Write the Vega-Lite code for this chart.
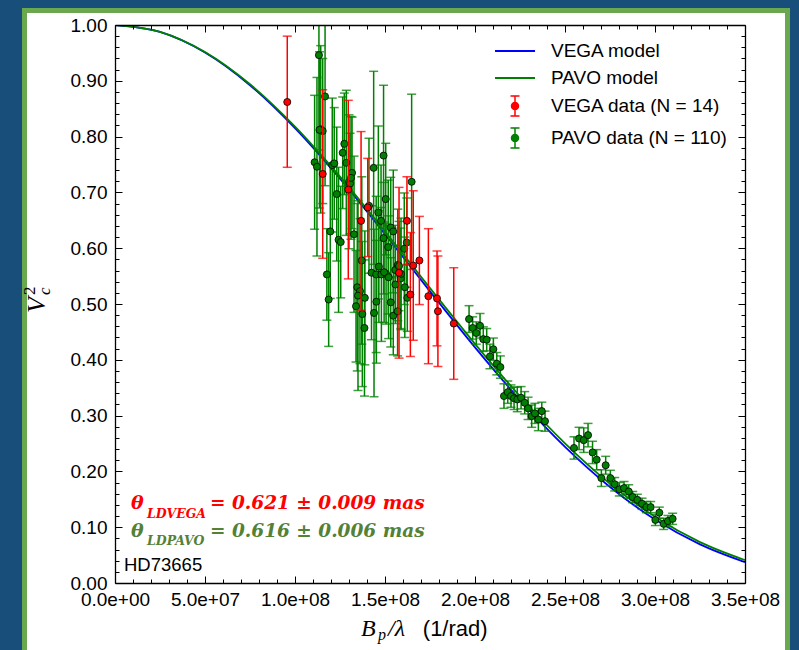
{
"$schema": "https://vega.github.io/schema/vega-lite/v6.json",
"width": 630, "height": 558,
"autosize": {"type": "none"},
"padding": {"left": 115, "top": 25, "right": 54, "bottom": 67},
"background": "#174e7a",
"config": {"view": {"stroke": null}, "font": "Liberation Sans"},
"datasets": {
"vegaModel": [{"B":0,"v2":1},{"B":25000000,"v2":0.9875},{"B":50000000,"v2":0.9507},{"B":75000000,"v2":0.8921},{"B":100000000,"v2":0.8151},{"B":125000000,"v2":0.7244},{"B":150000000,"v2":0.6251},{"B":175000000,"v2":0.5227},{"B":200000000,"v2":0.4223},{"B":225000000,"v2":0.3282},{"B":250000000,"v2":0.244},{"B":275000000,"v2":0.1721},{"B":300000000,"v2":0.1138},{"B":325000000,"v2":0.0692},{"B":350000000,"v2":0.0374}],
"pavoModel": [{"B":0,"v2":1},{"B":25000000,"v2":0.9877},{"B":50000000,"v2":0.9515},{"B":75000000,"v2":0.8937},{"B":100000000,"v2":0.8178},{"B":125000000,"v2":0.7282},{"B":150000000,"v2":0.63},{"B":175000000,"v2":0.5284},{"B":200000000,"v2":0.4286},{"B":225000000,"v2":0.3347},{"B":250000000,"v2":0.2503},{"B":275000000,"v2":0.1779},{"B":300000000,"v2":0.1188},{"B":325000000,"v2":0.0732},{"B":350000000,"v2":0.041}],
"vega": [
{"B":95700000,"v2":0.862,"lo":0.745,"hi":0.980},
{"B":115400000,"v2":0.733,"lo":0.582,"hi":0.884},
{"B":129600000,"v2":0.705,"lo":0.545,"hi":0.865},
{"B":136700000,"v2":0.649,"lo":0.489,"hi":0.809},
{"B":140400000,"v2":0.673,"lo":0.585,"hi":0.761},
{"B":162200000,"v2":0.649,"lo":0.570,"hi":0.728},
{"B":157800000,"v2":0.556,"lo":0.403,"hi":0.709},
{"B":169100000,"v2":0.578,"lo":0.499,"hi":0.657},
{"B":165700000,"v2":0.569,"lo":0.435,"hi":0.703},
{"B":164100000,"v2":0.517,"lo":0.406,"hi":0.628},
{"B":174100000,"v2":0.514,"lo":0.393,"hi":0.635},
{"B":178900000,"v2":0.510,"lo":0.425,"hi":0.595},
{"B":179400000,"v2":0.487,"lo":0.388,"hi":0.586},
{"B":188200000,"v2":0.465,"lo":0.365,"hi":0.565}],
"pavo": [
{"B":113300000,"v2":0.946,"lo":0.776,"hi":1.116},
{"B":116700000,"v2":0.872,"lo":0.712,"hi":1.032},
{"B":114300000,"v2":0.813,"lo":0.663,"hi":0.963},
{"B":115400000,"v2":0.810,"lo":0.680,"hi":0.940},
{"B":110900000,"v2":0.754,"lo":0.634,"hi":0.874},
{"B":112200000,"v2":0.746,"lo":0.586,"hi":0.906},
{"B":120700000,"v2":0.749,"lo":0.629,"hi":0.869},
{"B":121800000,"v2":0.752,"lo":0.652,"hi":0.852},
{"B":127400000,"v2":0.787,"lo":0.696,"hi":0.878},
{"B":126500000,"v2":0.771,"lo":0.671,"hi":0.871},
{"B":128500000,"v2":0.753,"lo":0.623,"hi":0.883},
{"B":131700000,"v2":0.735,"lo":0.635,"hi":0.835},
{"B":130000000,"v2":0.719,"lo":0.599,"hi":0.839},
{"B":130600000,"v2":0.716,"lo":0.626,"hi":0.806},
{"B":123200000,"v2":0.697,"lo":0.577,"hi":0.817},
{"B":143700000,"v2":0.744,"lo":0.571,"hi":0.917},
{"B":149200000,"v2":0.766,"lo":0.640,"hi":0.892},
{"B":164800000,"v2":0.719,"lo":0.562,"hi":0.876},
{"B":150400000,"v2":0.688,"lo":0.588,"hi":0.788},
{"B":141100000,"v2":0.676,"lo":0.555,"hi":0.797},
{"B":146300000,"v2":0.664,"lo":0.509,"hi":0.819},
{"B":147800000,"v2":0.649,"lo":0.549,"hi":0.749},
{"B":119600000,"v2":0.630,"lo":0.510,"hi":0.750},
{"B":153200000,"v2":0.637,"lo":0.547,"hi":0.727},
{"B":154600000,"v2":0.630,"lo":0.520,"hi":0.740},
{"B":149200000,"v2":0.618,"lo":0.518,"hi":0.718},
{"B":151800000,"v2":0.602,"lo":0.482,"hi":0.722},
{"B":162100000,"v2":0.610,"lo":0.530,"hi":0.690},
{"B":160700000,"v2":0.599,"lo":0.499,"hi":0.699},
{"B":132800000,"v2":0.625,"lo":0.485,"hi":0.765},
{"B":124200000,"v2":0.615,"lo":0.485,"hi":0.745},
{"B":125400000,"v2":0.611,"lo":0.511,"hi":0.711},
{"B":137100000,"v2":0.578,"lo":0.428,"hi":0.728},
{"B":117700000,"v2":0.553,"lo":0.471,"hi":0.635},
{"B":118700000,"v2":0.508,"lo":0.424,"hi":0.592},
{"B":142500000,"v2":0.556,"lo":0.436,"hi":0.676},
{"B":145100000,"v2":0.553,"lo":0.413,"hi":0.693},
{"B":146600000,"v2":0.567,"lo":0.467,"hi":0.667},
{"B":148000000,"v2":0.553,"lo":0.433,"hi":0.673},
{"B":150600000,"v2":0.554,"lo":0.464,"hi":0.644},
{"B":152000000,"v2":0.548,"lo":0.438,"hi":0.658},
{"B":155700000,"v2":0.561,"lo":0.481,"hi":0.641},
{"B":157100000,"v2":0.570,"lo":0.470,"hi":0.670},
{"B":158800000,"v2":0.546,"lo":0.456,"hi":0.636},
{"B":155800000,"v2":0.535,"lo":0.465,"hi":0.605},
{"B":161000000,"v2":0.530,"lo":0.440,"hi":0.620},
{"B":162400000,"v2":0.511,"lo":0.451,"hi":0.571},
{"B":134600000,"v2":0.530,"lo":0.380,"hi":0.680},
{"B":136100000,"v2":0.523,"lo":0.393,"hi":0.653},
{"B":135000000,"v2":0.515,"lo":0.345,"hi":0.685},
{"B":138800000,"v2":0.511,"lo":0.391,"hi":0.631},
{"B":133900000,"v2":0.496,"lo":0.396,"hi":0.596},
{"B":137400000,"v2":0.482,"lo":0.352,"hi":0.612},
{"B":143900000,"v2":0.484,"lo":0.334,"hi":0.634},
{"B":145200000,"v2":0.504,"lo":0.394,"hi":0.614},
{"B":138600000,"v2":0.457,"lo":0.335,"hi":0.579},
{"B":153200000,"v2":0.503,"lo":0.423,"hi":0.583},
{"B":154600000,"v2":0.479,"lo":0.409,"hi":0.549},
{"B":157000000,"v2":0.487,"lo":0.407,"hi":0.567},
{"B":158900000,"v2":0.554,"lo":0.454,"hi":0.654},
{"B":113600000,"v2":0.812,"lo":0.672,"hi":0.952},
{"B":149500000,"v2":0.557,"lo":0.467,"hi":0.647},
{"B":157800000,"v2":0.568,"lo":0.488,"hi":0.648},
{"B":131100000,"v2":0.726,"lo":0.616,"hi":0.836},
{"B":196700000,"v2":0.473,"lo":0.449,"hi":0.497},
{"B":198700000,"v2":0.457,"lo":0.437,"hi":0.477},
{"B":202800000,"v2":0.461,"lo":0.439,"hi":0.483},
{"B":200700000,"v2":0.448,"lo":0.428,"hi":0.468},
{"B":204600000,"v2":0.437,"lo":0.415,"hi":0.459},
{"B":206500000,"v2":0.436,"lo":0.416,"hi":0.456},
{"B":210200000,"v2":0.419,"lo":0.399,"hi":0.439},
{"B":208300000,"v2":0.406,"lo":0.384,"hi":0.428},
{"B":212100000,"v2":0.393,"lo":0.373,"hi":0.413},
{"B":214100000,"v2":0.387,"lo":0.367,"hi":0.407},
{"B":216100000,"v2":0.335,"lo":0.313,"hi":0.357},
{"B":218200000,"v2":0.342,"lo":0.322,"hi":0.362},
{"B":220000000,"v2":0.335,"lo":0.315,"hi":0.355},
{"B":221700000,"v2":0.331,"lo":0.311,"hi":0.351},
{"B":223500000,"v2":0.329,"lo":0.307,"hi":0.351},
{"B":225600000,"v2":0.332,"lo":0.312,"hi":0.352},
{"B":227600000,"v2":0.323,"lo":0.303,"hi":0.343},
{"B":229500000,"v2":0.313,"lo":0.293,"hi":0.333},
{"B":231500000,"v2":0.299,"lo":0.279,"hi":0.319},
{"B":233300000,"v2":0.304,"lo":0.286,"hi":0.322},
{"B":235200000,"v2":0.293,"lo":0.273,"hi":0.313},
{"B":237100000,"v2":0.308,"lo":0.292,"hi":0.324},
{"B":238900000,"v2":0.290,"lo":0.272,"hi":0.308},
{"B":255000000,"v2":0.242,"lo":0.222,"hi":0.262},
{"B":257800000,"v2":0.259,"lo":0.239,"hi":0.279},
{"B":260400000,"v2":0.256,"lo":0.234,"hi":0.278},
{"B":262800000,"v2":0.265,"lo":0.244,"hi":0.286},
{"B":265300000,"v2":0.234,"lo":0.214,"hi":0.254},
{"B":267600000,"v2":0.221,"lo":0.203,"hi":0.239},
{"B":272600000,"v2":0.211,"lo":0.195,"hi":0.227},
{"B":270200000,"v2":0.188,"lo":0.173,"hi":0.203},
{"B":275200000,"v2":0.188,"lo":0.174,"hi":0.202},
{"B":277600000,"v2":0.177,"lo":0.165,"hi":0.189},
{"B":280200000,"v2":0.168,"lo":0.156,"hi":0.180},
{"B":282800000,"v2":0.170,"lo":0.158,"hi":0.182},
{"B":285400000,"v2":0.164,"lo":0.152,"hi":0.176},
{"B":287600000,"v2":0.154,"lo":0.144,"hi":0.164},
{"B":290200000,"v2":0.149,"lo":0.139,"hi":0.159},
{"B":292800000,"v2":0.142,"lo":0.132,"hi":0.152},
{"B":295200000,"v2":0.136,"lo":0.126,"hi":0.146},
{"B":297600000,"v2":0.136,"lo":0.126,"hi":0.146},
{"B":302400000,"v2":0.126,"lo":0.116,"hi":0.136},
{"B":300200000,"v2":0.113,"lo":0.103,"hi":0.123},
{"B":304800000,"v2":0.106,"lo":0.096,"hi":0.116},
{"B":307200000,"v2":0.111,"lo":0.101,"hi":0.121},
{"B":309800000,"v2":0.115,"lo":0.105,"hi":0.125}]
},
"layer": [
{"data": {"values": [{}]},
 "mark": {"type": "rect", "fill": "white", "stroke": "#6aa84f", "strokeWidth": 5, "clip": false},
 "encoding": {
  "x": {"datum": -50280000, "type": "quantitative", "axis": null, "scale": {"domain": [0, 350000000], "nice": false, "zero": false}},
  "x2": {"datum": 373610000},
  "y": {"datum": 1.026, "type": "quantitative", "axis": null, "scale": {"domain": [0, 1], "nice": false, "zero": false}},
  "y2": {"datum": -0.21}}},
{"data": {"name": "vegaModel"},
 "mark": {"type": "line", "interpolate": "monotone", "strokeWidth": 1.8, "clip": true},
 "encoding": {
  "x": {"field": "B", "type": "quantitative", "axis": {"orient": "bottom", "title": null, "grid": false, "zindex": 1, "values": [0,50000000,100000000,150000000,200000000,250000000,300000000,350000000], "labelExpr": "replace(format(datum.value, '.1e'), 'e+', 'e+0')", "labelFont": "Liberation Sans", "labelFontSize": 19, "labelColor": "black", "labelPadding": 7, "labelFlush": false, "labelOverlap": false, "labelBound": false, "ticks": false, "tickSize": 0, "domain": true, "domainColor": "black", "domainWidth": 1.3}},
  "y": {"field": "v2", "type": "quantitative", "axis": {"orient": "left", "title": null, "grid": false, "zindex": 1, "values": [0,0.1,0.2,0.3,0.4,0.5,0.6,0.7,0.8,0.9,1], "format": ".2f", "labelFont": "Liberation Sans", "labelFontSize": 19, "labelColor": "black", "labelPadding": 8, "labelFlush": false, "labelOverlap": false, "labelBound": false, "ticks": false, "tickSize": 0, "domain": true, "domainColor": "black", "domainWidth": 1.3}},
  "color": {"datum": "VEGA model", "type": "nominal", "scale": {"domain": ["VEGA model", "PAVO model"], "range": ["#0000ff", "#008000"]},
   "legend": {"orient": "none", "legendX": 389, "legendY": 15, "title": null, "padding": 0, "symbolType": "M-2,0H2", "symbolSize": 400, "symbolStrokeWidth": 2, "labelFont": "Liberation Sans", "labelFontSize": 19, "labelColor": "black", "labelOffset": 25, "rowPadding": 6, "labelLimit": 400}}}},
{"data": {"name": "pavoModel"},
 "mark": {"type": "line", "interpolate": "monotone", "strokeWidth": 1.8, "clip": true},
 "encoding": {
  "x": {"field": "B", "type": "quantitative", "axis": {"orient": "bottom", "title": null, "grid": false, "zindex": 1, "values": [0,50000000,100000000,150000000,200000000,250000000,300000000,350000000], "labels": false, "domain": false, "ticks": true, "tickSize": -7, "tickColor": "black", "tickWidth": 1}},
  "y": {"field": "v2", "type": "quantitative", "axis": {"orient": "left", "title": null, "grid": false, "zindex": 1, "values": [0,0.1,0.2,0.3,0.4,0.5,0.6,0.7,0.8,0.9,1], "labels": false, "domain": false, "ticks": true, "tickSize": -7, "tickColor": "black", "tickWidth": 1}},
  "color": {"datum": "PAVO model", "type": "nominal"}}},
{"data": {"name": "pavo"},
 "mark": {"type": "rule", "strokeWidth": 1.5, "clip": true},
 "encoding": {
  "x": {"field": "B", "type": "quantitative", "axis": {"orient": "bottom", "title": null, "grid": false, "zindex": 1, "values": [10000000,20000000,30000000,40000000,60000000,70000000,80000000,90000000,110000000,120000000,130000000,140000000,160000000,170000000,180000000,190000000,210000000,220000000,230000000,240000000,260000000,270000000,280000000,290000000,310000000,320000000,330000000,340000000], "labels": false, "domain": false, "ticks": true, "tickSize": -4, "tickColor": "black", "tickWidth": 1}},
  "y": {"field": "lo", "type": "quantitative", "axis": {"orient": "left", "title": null, "grid": false, "zindex": 1, "values": [0.02,0.04,0.06,0.08,0.12,0.14,0.16,0.18,0.22,0.24,0.26,0.28,0.32,0.34,0.36,0.38,0.42,0.44,0.46,0.48,0.52,0.54,0.56,0.58,0.62,0.64,0.66,0.68,0.72,0.74,0.76,0.78,0.82,0.84,0.86,0.88,0.92,0.94,0.96,0.98], "labels": false, "domain": false, "ticks": true, "tickSize": -4, "tickColor": "black", "tickWidth": 1}},
  "y2": {"field": "hi"},
  "stroke": {"datum": "PAVO data (N = 110)", "type": "nominal", "scale": {"domain": ["VEGA data (N = 14)", "PAVO data (N = 110)"], "range": ["#ff0000", "#008000"]},
   "legend": {"orient": "none", "legendX": 389, "legendY": 70, "title": null, "padding": 0, "symbolType": "M0,-1V1M-0.45,-1H0.45M-0.45,1H0.45M0.35,0A0.35,0.35,0,1,1,-0.35,0A0.35,0.35,0,1,1,0.35,0Z", "symbolSize": 400, "symbolStrokeWidth": 1.5, "labelFont": "Liberation Sans", "labelFontSize": 19, "labelColor": "black", "labelOffset": 25, "rowPadding": 6, "labelLimit": 400}}}},
{"data": {"name": "pavo"},
 "mark": {"type": "tick", "orient": "horizontal", "size": 9, "thickness": 1.5, "color": "#008000", "opacity": 0.75, "clip": true},
 "encoding": {
  "x": {"field": "B", "type": "quantitative", "axis": {"orient": "top", "title": null, "grid": false, "zindex": 1, "values": [0,50000000,100000000,150000000,200000000,250000000,300000000,350000000], "labels": false, "domain": true, "domainColor": "black", "domainWidth": 1.3, "ticks": true, "tickSize": -7, "tickColor": "black", "tickWidth": 1}},
  "y": {"field": "lo", "type": "quantitative", "axis": {"orient": "right", "title": null, "grid": false, "zindex": 1, "values": [0,0.1,0.2,0.3,0.4,0.5,0.6,0.7,0.8,0.9,1], "labels": false, "domain": true, "domainColor": "black", "domainWidth": 1.3, "ticks": true, "tickSize": -7, "tickColor": "black", "tickWidth": 1}}}},
{"data": {"name": "pavo"},
 "mark": {"type": "tick", "orient": "horizontal", "size": 9, "thickness": 1.5, "color": "#008000", "opacity": 0.75, "clip": true},
 "encoding": {
  "x": {"field": "B", "type": "quantitative", "axis": {"orient": "top", "title": null, "grid": false, "zindex": 1, "values": [10000000,20000000,30000000,40000000,60000000,70000000,80000000,90000000,110000000,120000000,130000000,140000000,160000000,170000000,180000000,190000000,210000000,220000000,230000000,240000000,260000000,270000000,280000000,290000000,310000000,320000000,330000000,340000000], "labels": false, "domain": false, "ticks": true, "tickSize": -4, "tickColor": "black", "tickWidth": 1}},
  "y": {"field": "hi", "type": "quantitative", "axis": {"orient": "right", "title": null, "grid": false, "zindex": 1, "values": [0.02,0.04,0.06,0.08,0.12,0.14,0.16,0.18,0.22,0.24,0.26,0.28,0.32,0.34,0.36,0.38,0.42,0.44,0.46,0.48,0.52,0.54,0.56,0.58,0.62,0.64,0.66,0.68,0.72,0.74,0.76,0.78,0.82,0.84,0.86,0.88,0.92,0.94,0.96,0.98], "labels": false, "domain": false, "ticks": true, "tickSize": -4, "tickColor": "black", "tickWidth": 1}}}},
{"data": {"name": "pavo"},
 "mark": {"type": "point", "shape": "circle", "filled": true, "size": 50, "stroke": "black", "strokeWidth": 0.8, "opacity": 1},
 "encoding": {
  "x": {"field": "B", "type": "quantitative", "axis": null},
  "y": {"field": "v2", "type": "quantitative", "axis": null},
  "fill": {"datum": "PAVO data (N = 110)", "type": "nominal", "scale": {"domain": ["VEGA data (N = 14)", "PAVO data (N = 110)"], "range": ["#ff0000", "#008000"]},
   "legend": {"orient": "none", "legendX": 389, "legendY": 70, "title": null, "padding": 0, "symbolType": "M0,-1V1M-0.45,-1H0.45M-0.45,1H0.45M0.35,0A0.35,0.35,0,1,1,-0.35,0A0.35,0.35,0,1,1,0.35,0Z", "symbolSize": 400, "symbolStrokeWidth": 1.5, "labelFont": "Liberation Sans", "labelFontSize": 19, "labelColor": "black", "labelOffset": 25, "rowPadding": 6, "labelLimit": 400}}}},
{"data": {"name": "vega"},
 "mark": {"type": "rule", "strokeWidth": 1.5, "clip": true},
 "encoding": {
  "x": {"field": "B", "type": "quantitative", "axis": null},
  "y": {"field": "lo", "type": "quantitative", "axis": null},
  "y2": {"field": "hi"},
  "stroke": {"datum": "VEGA data (N = 14)", "type": "nominal"}}},
{"data": {"name": "vega"},
 "mark": {"type": "tick", "orient": "horizontal", "size": 9, "thickness": 1.5, "color": "#ff0000", "opacity": 0.75, "clip": true},
 "encoding": {
  "x": {"field": "B", "type": "quantitative", "axis": null},
  "y": {"field": "lo", "type": "quantitative", "axis": null}}},
{"data": {"name": "vega"},
 "mark": {"type": "tick", "orient": "horizontal", "size": 9, "thickness": 1.5, "color": "#ff0000", "opacity": 0.75, "clip": true},
 "encoding": {
  "x": {"field": "B", "type": "quantitative", "axis": null},
  "y": {"field": "hi", "type": "quantitative", "axis": null}}},
{"data": {"name": "vega"},
 "mark": {"type": "point", "shape": "circle", "filled": true, "size": 50, "stroke": "black", "strokeWidth": 0.8, "opacity": 1},
 "encoding": {
  "x": {"field": "B", "type": "quantitative", "axis": null},
  "y": {"field": "v2", "type": "quantitative", "axis": null},
  "fill": {"datum": "VEGA data (N = 14)", "type": "nominal"}}},
{"data": {"values": [{}]},
 "mark": {"type": "text", "text": "θ", "font": "DejaVu Serif", "fontWeight": "bold", "fontStyle": "italic", "fontSize": 19, "color": "#ff0000", "align": "left", "baseline": "alphabetic"},
 "encoding": {"x": {"datum": 8890000, "type": "quantitative", "axis": null}, "y": {"datum": 0.1321, "type": "quantitative", "axis": null}}},
{"data": {"values": [{}]},
 "mark": {"type": "text", "text": "LDVEGA", "font": "DejaVu Serif", "fontWeight": "bold", "fontStyle": "italic", "fontSize": 12.5, "color": "#ff0000", "align": "left", "baseline": "alphabetic"},
 "encoding": {"x": {"datum": 17800000, "type": "quantitative", "axis": null}, "y": {"datum": 0.1165, "type": "quantitative", "axis": null}}},
{"data": {"values": [{}]},
 "mark": {"type": "text", "text": "= 0.621 ± 0.009 mas", "font": "DejaVu Serif", "fontWeight": "bold", "fontStyle": "italic", "fontSize": 18.5, "color": "#ff0000", "align": "left", "baseline": "alphabetic"},
 "encoding": {"x": {"datum": 52800000, "type": "quantitative", "axis": null}, "y": {"datum": 0.1321, "type": "quantitative", "axis": null}}},
{"data": {"values": [{}]},
 "mark": {"type": "text", "text": "θ", "font": "DejaVu Serif", "fontWeight": "bold", "fontStyle": "italic", "fontSize": 19, "color": "#538135", "align": "left", "baseline": "alphabetic"},
 "encoding": {"x": {"datum": 8890000, "type": "quantitative", "axis": null}, "y": {"datum": 0.083, "type": "quantitative", "axis": null}}},
{"data": {"values": [{}]},
 "mark": {"type": "text", "text": "LDPAVO", "font": "DejaVu Serif", "fontWeight": "bold", "fontStyle": "italic", "fontSize": 12.5, "color": "#538135", "align": "left", "baseline": "alphabetic"},
 "encoding": {"x": {"datum": 17800000, "type": "quantitative", "axis": null}, "y": {"datum": 0.0674, "type": "quantitative", "axis": null}}},
{"data": {"values": [{}]},
 "mark": {"type": "text", "text": "= 0.616 ± 0.006 mas", "font": "DejaVu Serif", "fontWeight": "bold", "fontStyle": "italic", "fontSize": 18.5, "color": "#538135", "align": "left", "baseline": "alphabetic"},
 "encoding": {"x": {"datum": 52800000, "type": "quantitative", "axis": null}, "y": {"datum": 0.083, "type": "quantitative", "axis": null}}},
{"data": {"values": [{}]},
 "mark": {"type": "text", "text": "HD73665", "font": "Liberation Sans", "fontSize": 18.5, "color": "black", "align": "left", "baseline": "middle"},
 "encoding": {"x": {"datum": 5000000, "type": "quantitative", "axis": null}, "y": {"datum": 0.0314, "type": "quantitative", "axis": null}}},
{"data": {"values": [{}]},
 "mark": {"type": "text", "text": "V", "font": "Liberation Serif", "fontStyle": "italic", "fontSize": 26, "color": "black", "align": "center", "baseline": "alphabetic", "angle": 270},
 "encoding": {"x": {"datum": -38900000, "type": "quantitative", "axis": null}, "y": {"datum": 0.498, "type": "quantitative", "axis": null}}},
{"data": {"values": [{}]},
 "mark": {"type": "text", "text": "c", "font": "Liberation Serif", "fontStyle": "italic", "fontSize": 17, "color": "black", "align": "left", "baseline": "alphabetic", "angle": 270},
 "encoding": {"x": {"datum": -36100000, "type": "quantitative", "axis": null}, "y": {"datum": 0.516, "type": "quantitative", "axis": null}}},
{"data": {"values": [{}]},
 "mark": {"type": "text", "text": "2", "font": "Liberation Serif", "fontSize": 17, "color": "black", "align": "left", "baseline": "alphabetic", "angle": 270},
 "encoding": {"x": {"datum": -44400000, "type": "quantitative", "axis": null}, "y": {"datum": 0.516, "type": "quantitative", "axis": null}}},
{"data": {"values": [{}]},
 "mark": {"type": "text", "text": "B", "font": "Liberation Serif", "fontStyle": "italic", "fontSize": 24, "color": "black", "align": "left", "baseline": "alphabetic"},
 "encoding": {"x": {"datum": 136700000, "type": "quantitative", "axis": null}, "y": {"datum": -0.0944, "type": "quantitative", "axis": null}}},
{"data": {"values": [{}]},
 "mark": {"type": "text", "text": "p", "font": "Liberation Serif", "fontStyle": "italic", "fontSize": 16, "color": "black", "align": "left", "baseline": "alphabetic"},
 "encoding": {"x": {"datum": 146100000, "type": "quantitative", "axis": null}, "y": {"datum": -0.1022, "type": "quantitative", "axis": null}}},
{"data": {"values": [{}]},
 "mark": {"type": "text", "text": "/λ", "font": "Liberation Serif", "fontStyle": "italic", "fontSize": 24, "color": "black", "align": "left", "baseline": "alphabetic"},
 "encoding": {"x": {"datum": 151700000, "type": "quantitative", "axis": null}, "y": {"datum": -0.0944, "type": "quantitative", "axis": null}}},
{"data": {"values": [{}]},
 "mark": {"type": "text", "text": "(1/rad)", "font": "Liberation Sans", "fontSize": 22, "color": "black", "align": "left", "baseline": "alphabetic"},
 "encoding": {"x": {"datum": 171000000, "type": "quantitative", "axis": null}, "y": {"datum": -0.095, "type": "quantitative", "axis": null}}}
],
"resolve": {"axis": {"x": "independent", "y": "independent"}}
}
